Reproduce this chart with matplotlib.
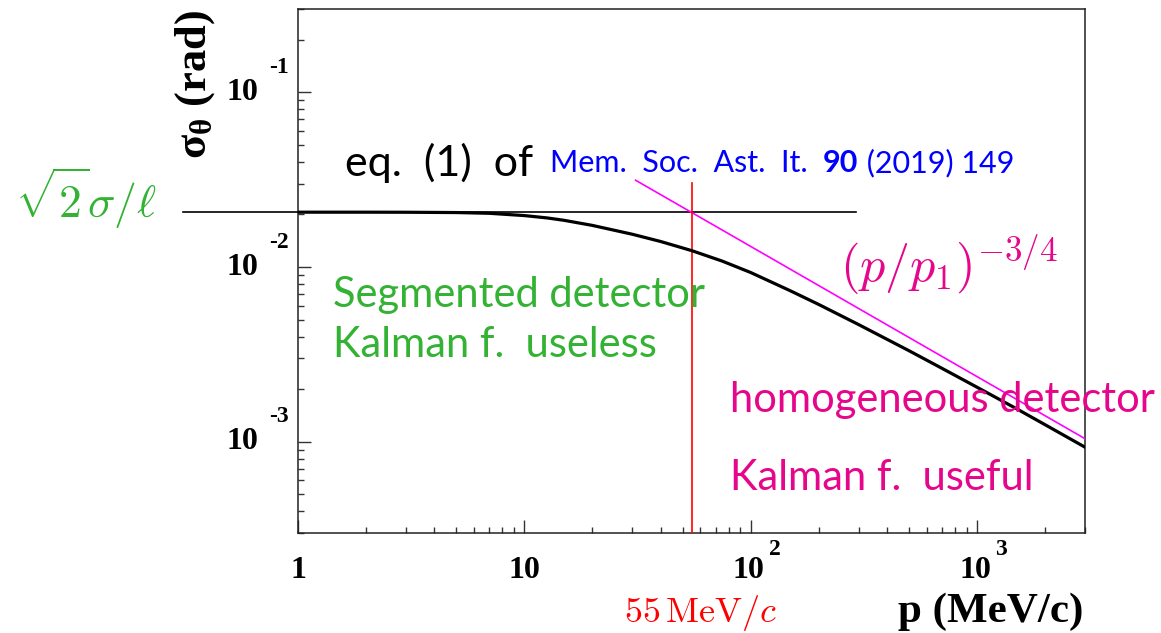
import numpy as np
import matplotlib
matplotlib.use('Agg')
import matplotlib.pyplot as plt
from matplotlib.ticker import LogLocator, NullFormatter

# sigma_theta (rad) vs p (MeV/c)
p_curve = [1, 2, 3, 5, 7, 10, 12.6, 15, 20, 30, 40, 55, 75, 100, 150, 200, 300, 500, 700, 1000, 1500, 2000, 3000]
sigma_curve = [0.0206, 0.0206, 0.02058, 0.0205, 0.0203, 0.0197, 0.0191, 0.0185, 0.0173, 0.0154, 0.0140, 0.0124,
               0.0108, 0.0093, 0.0073, 0.0061, 0.00468, 0.00332, 0.00263, 0.00205, 0.00154, 0.00125, 0.00093]

# low-momentum plateau sqrt(2) sigma / l
p_flat = [0.31, 293]
sigma_flat = [0.0206, 0.0206]

# high-momentum asymptote (p/p1)^-3/4
p_asym = [31, 3000]
sigma_asym = [0.0314, 0.00104]

# crossing momentum
p_cross = 55
sigma_cross_top = 0.0303

x_ticks = [1, 10, 100, 1000]
x_labels = [('1', ''), ('10', ''), ('10', '2'), ('10', '3')]
y_ticks = [1e-3, 1e-2, 1e-1]
y_labels = [('10', '-3'), ('10', '-2'), ('10', '-1')]

W, H = 1161, 633
GREEN = '#33b233'
PINK = '#e6068c'

plt.rcParams['mathtext.fontset'] = 'cm'
plt.rcParams['mathtext.rm'] = 'Liberation Serif:bold'

fig = plt.figure(figsize=(W / 100, H / 100), dpi=100)
ax = fig.add_axes([298 / W, 1 - 533 / H, (1085 - 298) / W, (533 - 9) / H])
ax.set_xscale('log')
ax.set_yscale('log')
ax.set_xlim(1, 3000)
ax.set_ylim(3e-4, 0.3)

for s in ax.spines.values():
    s.set_linewidth(1.1)
    s.set_color('#222222')

for axis in (ax.xaxis, ax.yaxis):
    axis.set_major_locator(LogLocator(base=10, numticks=20))
    axis.set_minor_locator(LogLocator(base=10, subs=np.arange(2, 10), numticks=20))
    axis.set_major_formatter(NullFormatter())
    axis.set_minor_formatter(NullFormatter())
ax.tick_params(which='both', direction='in', top=False, right=False, color='#333333', width=1.0)
ax.tick_params(which='major', length=9.5)
ax.tick_params(which='minor', length=4.5)

ax.plot(p_flat, sigma_flat, color='black', lw=1.2, clip_on=False, zorder=3)
ax.plot(p_asym, sigma_asym, color='#ff00ff', lw=1.2, zorder=3)
ax.plot([p_cross, p_cross], [3e-4, sigma_cross_top], color='red', lw=1.2, zorder=4)
ax.plot(p_curve, sigma_curve, color='black', lw=2.3, zorder=5)

# ROOT-style power-of-ten tick labels
tl = dict(fontfamily='Liberation Serif', fontweight='bold', color='black')
for xv, (base, ex) in zip(x_ticks, x_labels):
    ax.annotate(base, xy=(xv, 0), xycoords=('data', 'axes fraction'), xytext=(-2 if ex else 0, -45),
                textcoords='offset pixels', ha='center', va='baseline', fontsize=23, **tl)
    if ex:
        ax.annotate(ex, xy=(xv, 0), xycoords=('data', 'axes fraction'), xytext=(24, -22),
                    textcoords='offset pixels', ha='center', va='baseline', fontsize=17, **tl)
for yv, (base, ex) in zip(y_ticks, y_labels):
    ax.annotate(base, xy=(0, yv), xycoords=('axes fraction', 'data'), xytext=(-56, 0),
                textcoords='offset pixels', ha='center', va='center', fontsize=23, **tl)
    ax.annotate(ex, xy=(0, yv), xycoords=('axes fraction', 'data'), xytext=(-19, 25),
                textcoords='offset pixels', ha='center', va='center', fontsize=17, **tl)


def fx(x):
    return x / W


def fy(y):
    return 1 - y / H


fig.text(fx(1083), fy(622), 'p (MeV/c)', ha='right', va='baseline', fontsize=31, **tl)
fig.text(fx(195), fy(10), r'$\mathrm{\sigma_{\theta}}$ (rad)', rotation=90, ha='center', va='top',
         fontsize=32, math_fontfamily='custom', **tl)

fig.text(fx(15), fy(218), r'$\sqrt{2}\sigma/\ell$', color=GREEN, fontsize=33, ha='left', va='baseline')
fig.text(fx(840), fy(282), r'$(p/p_1)^{-3/4}$', color=PINK, fontsize=36, ha='left', va='baseline')
fig.text(fx(777), fy(622), r'$55\,\mathrm{MeV}/c$', color='red', fontsize=26, ha='right', va='baseline')

sans = dict(fontfamily='Lato')
fig.text(fx(345), fy(176), 'eq.  (1)  of', color='black', fontsize=31, ha='left', va='baseline', **sans)
ref = dict(textcoords='offset pixels', ha='left', va='bottom', color='blue', fontsize=22, **sans)
t_journal = fig.text(fx(550), fy(172), 'Mem.  Soc.  Ast.  It.  ', color='blue', fontsize=22,
                     ha='left', va='baseline', **sans)
t_vol = ax.annotate('90', xy=(1, 0), xycoords=t_journal, xytext=(0, 0), fontweight='bold', **ref)
ax.annotate(' (2019) 149', xy=(1, 0), xycoords=t_vol, xytext=(0, 0), **ref)

fig.text(fx(333), fy(307), 'Segmented detector', color=GREEN, fontsize=30, ha='left', va='baseline', **sans)
fig.text(fx(333), fy(357), 'Kalman f.  useless', color=GREEN, fontsize=30, ha='left', va='baseline', **sans)
fig.text(fx(730), fy(412), 'homogeneous detector', color=PINK, fontsize=30, ha='left', va='baseline', **sans)
fig.text(fx(730), fy(490), 'Kalman f.  useful', color=PINK, fontsize=30, ha='left', va='baseline', **sans)

fig.savefig('out.png', dpi=100)
